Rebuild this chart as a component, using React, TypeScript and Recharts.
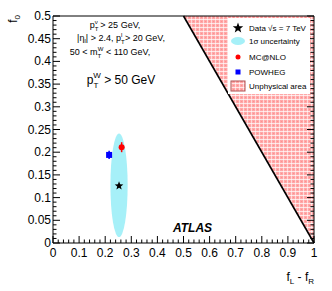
import React from 'react';
import {
  ComposedChart,
  Scatter,
  XAxis,
  YAxis,
  ReferenceArea,
  ReferenceLine,
  ErrorBar,
  Customized,
} from 'recharts';

const FONT = '"Liberation Sans", Arial, Helvetica, sans-serif';

// ---- data ----
const dataPoint = [{ x: 0.253, y: 0.126 }];
const mcatnlo = [{ x: 0.263, y: 0.211, ex: 0.003, ey: 0.011 }];
const powheg = [{ x: 0.215, y: 0.194, ex: 0.009, ey: 0.009 }];
const ellipseX = [0.22, 0.286];
const ellipseY = [0.013, 0.241];
const unphysX = [0.5, 1];
const unphysY = [0, 0.5];
const boundaryLine = [
  { x: 0.5, y: 0.5 },
  { x: 1, y: 0 },
];

const X_MAJOR = [0, 0.1, 0.2, 0.3, 0.4, 0.5, 0.6, 0.7, 0.8, 0.9, 1];
const Y_MAJOR = [0, 0.05, 0.1, 0.15, 0.2, 0.25, 0.3, 0.35, 0.4, 0.45, 0.5];
const X_TICKS = Array.from({ length: 51 }, (_, i) => +(i * 0.02).toFixed(2));
const Y_TICKS = Array.from({ length: 51 }, (_, i) => +(i * 0.01).toFixed(2));

const LEGEND_LABELS = ['Data √s = 7 TeV', '1σ uncertainty', 'MC@NLO', 'POWHEG', 'Unphysical area'];

const MAJ = 7;
const MIN = 3.5;

const BottomTick = (p: any) => {
  const v = p.payload.value;
  const major = X_MAJOR.includes(v);
  return (
    <g>
      <line x1={p.x} x2={p.x} y1={p.y} y2={p.y - (major ? MAJ : MIN)} stroke="#000" />
      {major && (
        <text x={p.x} y={p.y + 14} textAnchor="middle" fontSize={12} fontFamily={FONT} fill="#000">
          {String(v)}
        </text>
      )}
    </g>
  );
};

const TopTick = (p: any) => {
  const v = p.payload.value;
  const major = X_MAJOR.includes(v);
  return <line x1={p.x} x2={p.x} y1={p.y} y2={p.y + (major ? MAJ : MIN)} stroke="#000" />;
};

const LeftTick = (p: any) => {
  const v = p.payload.value;
  const major = Y_MAJOR.includes(v);
  return (
    <g>
      <line x1={p.x} x2={p.x + (major ? MAJ : MIN)} y1={p.y} y2={p.y} stroke="#000" />
      {major && (
        <text x={p.x - 2} y={p.y + 4} textAnchor="end" fontSize={12} fontFamily={FONT} fill="#000">
          {String(v)}
        </text>
      )}
    </g>
  );
};

const RightTick = (p: any) => {
  const v = p.payload.value;
  const major = Y_MAJOR.includes(v);
  return <line x1={p.x} x2={p.x - (major ? MAJ : MIN)} y1={p.y} y2={p.y} stroke="#000" />;
};

const HatchPattern = ({ id }: { id: string }) => (
  <pattern id={id} width="4" height="4" patternUnits="userSpaceOnUse">
    <rect x="0" y="0" width="4" height="4" fill="#ffa8a8" />
    <line x1="0" y1="3.5" x2="4" y2="3.5" stroke="#ffffff" strokeOpacity="0.7" strokeWidth="1" />
    <line x1="3.5" y1="0" x2="3.5" y2="4" stroke="#ffffff" strokeOpacity="0.55" strokeWidth="1" />
    <line x1="1" y1="1.5" x2="2.2" y2="1.5" stroke="#ff8a8a" strokeWidth="0.8" />
  </pattern>
);

const UnphysShape = (p: any) => (
  <g>
    <defs>
      <HatchPattern id="unphysHatch" />
    </defs>
    <polygon
      points={`${p.x},${p.y} ${p.x + p.width},${p.y} ${p.x + p.width},${p.y + p.height}`}
      fill="url(#unphysHatch)"
    />
  </g>
);

const EllipseShape = (p: any) => (
  <ellipse
    cx={p.x + p.width / 2}
    cy={p.y + p.height / 2}
    rx={p.width / 2}
    ry={p.height / 2}
    fill="#a6f0f8"
    stroke="none"
  />
);

const starPoints = (cx: number, cy: number, ro: number, ri: number) => {
  const pts: string[] = [];
  for (let i = 0; i < 10; i++) {
    const r = i % 2 === 0 ? ro : ri;
    const a = -Math.PI / 2 + (i * Math.PI) / 5;
    pts.push(`${cx + r * Math.cos(a)},${cy + r * Math.sin(a)}`);
  }
  return pts.join(' ');
};

const StarShape = (p: any) => <polygon points={starPoints(p.cx, p.cy, 4.5, 1.9)} fill="#000" />;
const CircleShape = (p: any) => <circle cx={p.cx} cy={p.cy} r={3} fill="#ff0000" />;
const SquareShape = (p: any) => <rect x={p.cx - 3} y={p.cy - 3} width={6} height={6} fill="#0000ff" />;

const Annotations = () => (
  <g fontFamily={FONT} fill="#000">
    <text x={115} y={28} textAnchor="middle" fontSize={9}>
      p<tspan fontSize={6} dy={2.5}>T</tspan>
      <tspan fontSize={6} dx={-3.5} dy={-7}>ν</tspan>
      <tspan dy={4.5}> &gt; 25 GeV,</tspan>
    </text>
    <text x={121} y={41} textAnchor="middle" fontSize={9}>
      |η<tspan fontSize={6} dy={2}>l</tspan>
      <tspan dy={-2}>| &gt; 2.4, p</tspan>
      <tspan fontSize={6} dy={2.5}>T</tspan>
      <tspan fontSize={6} dx={-3.5} dy={-7}>l</tspan>
      <tspan dy={4.5}> &gt; 20 GeV,</tspan>
    </text>
    <text x={110} y={55} textAnchor="middle" fontSize={9}>
      50 &lt; m<tspan fontSize={6} dy={2.5}>T</tspan>
      <tspan fontSize={6} dx={-3.5} dy={-7}>W</tspan>
      <tspan dy={4.5}> &lt; 110 GeV,</tspan>
    </text>
    <text x={121} y={84} textAnchor="middle" fontSize={12}>
      p<tspan fontSize={8} dy={4}>T</tspan>
      <tspan fontSize={8} dx={-5} dy={-10}>W</tspan>
      <tspan dy={6}> &gt; 50 GeV</tspan>
    </text>
    <text x={173} y={232} fontSize={12} fontWeight="bold" fontStyle="italic">
      ATLAS
    </text>
    <text x={314} y={281} textAnchor="end" fontSize={12}>
      f<tspan fontSize={8} dy={3}>L</tspan>
      <tspan dy={-3}> - f</tspan>
      <tspan fontSize={8} dy={3}>R</tspan>
    </text>
    <text x={17} y={15} textAnchor="end" fontSize={12} transform="rotate(-90 17 15)">
      f<tspan fontSize={8} dy={3}>0</tspan>
    </text>
  </g>
);

const LegendOverlay = () => (
  <svg
    width={332}
    height={291}
    style={{ position: 'absolute', left: 0, top: 0, pointerEvents: 'none' }}
  >
    <defs>
      <HatchPattern id="legendHatch" />
    </defs>
    <g fontFamily={FONT} fill="#000">
      <rect x={228} y={18} width={82} height={76} fill="#ffffff" />
      <polygon points={starPoints(238, 28, 5.5, 2.3)} fill="#000" />
      <text x={249} y={31} fontSize={8}>{LEGEND_LABELS[0]}</text>
      <ellipse cx={238} cy={41} rx={7} ry={4} fill="#a6f0f8" />
      <text x={249} y={44} fontSize={8}>{LEGEND_LABELS[1]}</text>
      <circle cx={238} cy={57} r={2.5} fill="#ff0000" />
      <text x={249} y={60} fontSize={8}>{LEGEND_LABELS[2]}</text>
      <rect x={235.5} y={69.5} width={5} height={5} fill="#0000ff" />
      <text x={249} y={75} fontSize={8}>{LEGEND_LABELS[3]}</text>
      <rect x={231} y={81} width={14} height={10} fill="url(#legendHatch)" stroke="#b05050" strokeWidth={1} />
      <text x={249} y={89} fontSize={8}>{LEGEND_LABELS[4]}</text>
    </g>
  </svg>
);

export default function App() {
  return (
    <div style={{ position: 'absolute', left: 0, top: 0, width: 332, height: 291, background: '#fff' }}>
      <ComposedChart
        width={332}
        height={291}
        margin={{ top: 15, right: 0, bottom: 0, left: 0 }}
        style={{ fontFamily: FONT }}
      >
        <XAxis
          xAxisId="b"
          type="number"
          dataKey="x"
          domain={[0, 1]}
          ticks={X_TICKS}
          interval={0}
          orientation="bottom"
          height={48}
          tickSize={0}
          tickMargin={0}
          tickLine={false}
          axisLine={{ stroke: '#000' }}
          tick={BottomTick}
          allowDataOverflow
        />
        <XAxis
          xAxisId="t"
          type="number"
          domain={[0, 1]}
          ticks={X_TICKS}
          interval={0}
          orientation="top"
          height={1}
          tickSize={0}
          tickMargin={0}
          tickLine={false}
          axisLine={{ stroke: '#000' }}
          tick={TopTick}
          allowDataOverflow
        />
        <YAxis
          yAxisId="l"
          type="number"
          dataKey="y"
          domain={[0, 0.5]}
          ticks={Y_TICKS}
          interval={0}
          orientation="left"
          width={53}
          tickSize={0}
          tickMargin={0}
          tickLine={false}
          axisLine={{ stroke: '#000' }}
          tick={LeftTick}
          allowDataOverflow
        />
        <YAxis
          yAxisId="r"
          type="number"
          domain={[0, 0.5]}
          ticks={Y_TICKS}
          interval={0}
          orientation="right"
          width={18}
          tickSize={0}
          tickMargin={0}
          tickLine={false}
          axisLine={{ stroke: '#000' }}
          tick={RightTick}
          allowDataOverflow
        />
        <ReferenceArea
          xAxisId="b"
          yAxisId="l"
          x1={unphysX[0]}
          x2={unphysX[1]}
          y1={unphysY[0]}
          y2={unphysY[1]}
          shape={UnphysShape}
        />
        <ReferenceArea
          xAxisId="b"
          yAxisId="l"
          x1={ellipseX[0]}
          x2={ellipseX[1]}
          y1={ellipseY[0]}
          y2={ellipseY[1]}
          shape={EllipseShape}
        />
        <ReferenceLine
          xAxisId="b"
          yAxisId="l"
          segment={boundaryLine}
          stroke="#000"
          strokeWidth={1.6}
        />
        <Scatter xAxisId="b" yAxisId="l" data={mcatnlo} shape={CircleShape} isAnimationActive={false}>
          <ErrorBar dataKey="ey" direction="y" width={0} stroke="#ff0000" strokeWidth={1.5} />
        </Scatter>
        <Scatter xAxisId="b" yAxisId="l" data={powheg} shape={SquareShape} isAnimationActive={false}>
          <ErrorBar dataKey="ey" direction="y" width={0} stroke="#0000ff" strokeWidth={1.5} />
          <ErrorBar dataKey="ex" direction="x" width={0} stroke="#0000ff" strokeWidth={1.5} />
        </Scatter>
        <Scatter xAxisId="b" yAxisId="l" data={dataPoint} shape={StarShape} isAnimationActive={false} />
        <Customized component={<Annotations />} />
      </ComposedChart>
      <LegendOverlay />
    </div>
  );
}
